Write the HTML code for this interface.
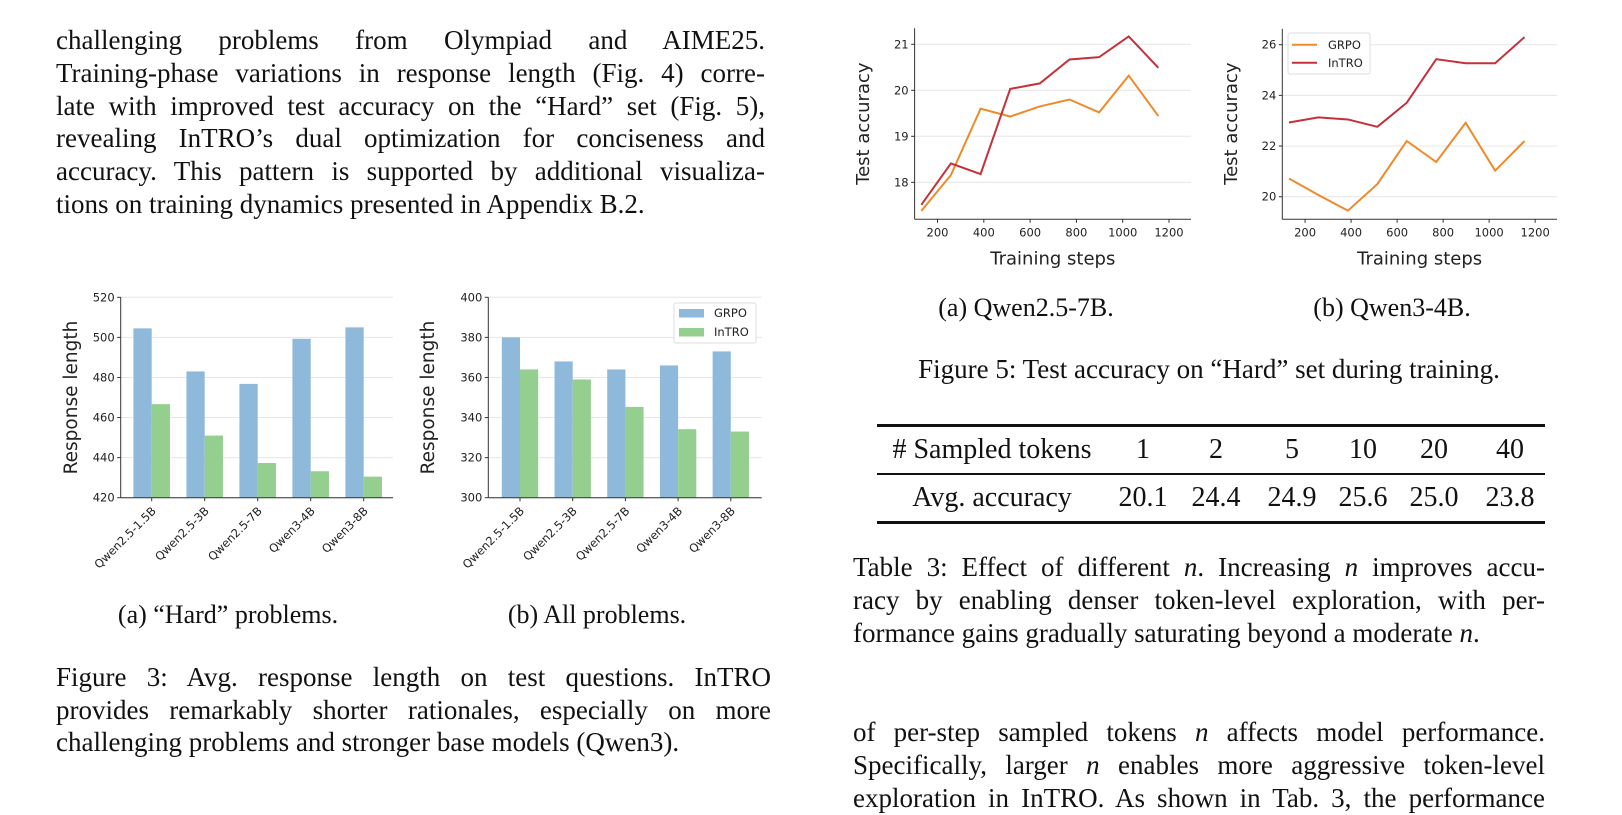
<!DOCTYPE html>
<html><head><meta charset="utf-8">
<style>
html,body{margin:0;padding:0;background:#fff;}
body{width:1622px;height:791px;position:relative;overflow:hidden;font-family:"Liberation Serif",serif;color:#111;}
.ln{position:absolute;font-size:27px;line-height:33px;height:33px;white-space:nowrap;}
.j{text-align:justify;text-align-last:justify;white-space:normal;overflow:hidden;}
.c{position:absolute;font-size:26px;line-height:30px;white-space:nowrap;transform:translateX(-50%);}
svg text{font-family:"DejaVu Sans",sans-serif;fill:#222;}
.tbl{position:absolute;left:877px;top:424px;width:668px;}
.rule{position:absolute;left:0;width:668px;background:#111;}
.cell{position:absolute;font-size:28px;line-height:32px;white-space:nowrap;transform:translateX(-50%);}
</style></head>
<body>
<div>
<div class="ln j" style="left:56px;top:24px;width:709px;">challenging problems from Olympiad and AIME25.</div>
<div class="ln j" style="left:56px;top:57px;width:709px;">Training-phase variations in response length (Fig. 4) corre-</div>
<div class="ln j" style="left:56px;top:90px;width:709px;">late with improved test accuracy on the “Hard” set (Fig. 5),</div>
<div class="ln j" style="left:56px;top:122px;width:709px;">revealing InTRO’s dual optimization for conciseness and</div>
<div class="ln j" style="left:56px;top:155px;width:709px;">accuracy. This pattern is supported by additional visualiza-</div>
<div class="ln" style="left:56px;top:188px;">tions on training dynamics presented in Appendix B.2.</div>
</div>

<div class="c" style="left:228px;top:600px;">(a) “Hard” problems.</div>
<div class="c" style="left:597px;top:600px;">(b) All problems.</div>

<div>
<div class="ln j" style="left:56px;top:661px;width:715px;">Figure 3: Avg. response length on test questions. InTRO</div>
<div class="ln j" style="left:56px;top:694px;width:715px;">provides remarkably shorter rationales, especially on more</div>
<div class="ln" style="left:56px;top:726px;">challenging problems and stronger base models (Qwen3).</div>
</div>

<div class="c" style="left:1026px;top:293px;">(a) Qwen2.5-7B.</div>
<div class="c" style="left:1392px;top:293px;">(b) Qwen3-4B.</div>
<div class="c" style="left:1209px;top:354px;font-size:27px;">Figure 5: Test accuracy on “Hard” set during training.</div>

<div class="tbl">
<div class="rule" style="top:0;height:2.5px;"></div>
<div class="rule" style="top:49px;height:1.5px;"></div>
<div class="rule" style="top:97px;height:2.5px;"></div>
<div class="cell" style="left:115px;top:10px;">#&nbsp;Sampled tokens</div>
<div class="cell" style="left:266px;top:10px;">1</div>
<div class="cell" style="left:339px;top:10px;">2</div>
<div class="cell" style="left:415px;top:10px;">5</div>
<div class="cell" style="left:486px;top:10px;">10</div>
<div class="cell" style="left:557px;top:10px;">20</div>
<div class="cell" style="left:633px;top:10px;">40</div>
<div class="cell" style="left:115px;top:58px;">Avg. accuracy</div>
<div class="cell" style="left:266px;top:58px;">20.1</div>
<div class="cell" style="left:339px;top:58px;">24.4</div>
<div class="cell" style="left:415px;top:58px;">24.9</div>
<div class="cell" style="left:486px;top:58px;">25.6</div>
<div class="cell" style="left:557px;top:58px;">25.0</div>
<div class="cell" style="left:633px;top:58px;">23.8</div>
</div>

<div>
<div class="ln j" style="left:853px;top:551px;width:692px;">Table 3: Effect of different <i>n</i>. Increasing <i>n</i> improves accu-</div>
<div class="ln j" style="left:853px;top:584px;width:692px;">racy by enabling denser token-level exploration, with per-</div>
<div class="ln" style="left:853px;top:617px;">formance gains gradually saturating beyond a moderate <i>n</i>.</div>
</div>

<div>
<div class="ln j" style="left:853px;top:716px;width:692px;">of per-step sampled tokens <i>n</i> affects model performance.</div>
<div class="ln j" style="left:853px;top:749px;width:692px;">Specifically, larger <i>n</i> enables more aggressive token-level</div>
<div class="ln j" style="left:853px;top:782px;width:692px;">exploration in InTRO. As shown in Tab. 3, the performance</div>
</div>

<svg id="charts" width="1622" height="791" style="position:absolute;left:0;top:0;" xmlns="http://www.w3.org/2000/svg"></svg>

<script>
const barCategories=["Qwen2.5-1.5B","Qwen2.5-3B","Qwen2.5-7B","Qwen3-4B","Qwen3-8B"];
const hardGRPO=[504.5,483,476.8,499.3,505];
const hardInTRO=[466.7,451,437.3,433.2,430.5];
const allGRPO=[380,368,364,366,373];
const allInTRO=[364,359,345.3,334.2,333];
const hardTicks=[420,440,460,480,500,520];
const allTicks=[300,320,340,360,380,400];

const steps=[130,258,386,514,642,770,898,1026,1154];
const q7GRPO=[17.38,18.16,19.6,19.43,19.65,19.8,19.52,20.32,19.44];
const q7InTRO=[17.51,18.41,18.18,20.03,20.15,20.67,20.72,21.17,20.49];
const q4GRPO=[20.72,20.07,19.45,20.5,22.2,21.37,22.92,21.03,22.2];
const q4InTRO=[22.93,23.13,23.05,22.76,23.71,25.43,25.27,25.27,26.3];
const stepTicks=[200,400,600,800,1000,1200];
const q7Ticks=[18,19,20,21];
const q4Ticks=[20,22,24,26];

const NS="http://www.w3.org/2000/svg";
const svg=document.getElementById('charts');
function mk(tag,attrs,parent){const e=document.createElementNS(NS,tag);for(const k in attrs)e.setAttribute(k,attrs[k]);(parent||svg).appendChild(e);return e;}

function barChart(name,left,right,yBot,yTop,vmin,vmax,ticks,g1,g2,x0,dx,legend,ylabelX){
  const g=mk('g',{});
  
  
  const ys=v=>yBot-(v-vmin)/(vmax-vmin)*(yBot-yTop);
  const bw=dx*0.345;
  ticks.forEach(t=>{
    const gl=mk('line',{x1:left,x2:right,y1:ys(t),y2:ys(t),stroke:'#e6e6e6','stroke-width':1},g);
    
    
    mk('line',{x1:left-3.5,x2:left,y1:ys(t),y2:ys(t),stroke:'#333','stroke-width':1},g);
    const tx=mk('text',{x:left-6,y:ys(t)+4,'text-anchor':'end','font-size':11.5},g);
    tx.textContent=t;
    
    
  });
  barCategories.forEach((c,i)=>{
    const cx=x0+dx*i;
    const b1=mk('rect',{x:cx-bw,y:ys(g1[i]),width:bw,height:yBot-ys(g1[i]),fill:'#8fb9da'},g);
    
    
    const b2=mk('rect',{x:cx,y:ys(g2[i]),width:bw,height:yBot-ys(g2[i]),fill:'#95cf90'},g);
    
    
    mk('line',{x1:cx,x2:cx,y1:yBot,y2:yBot+3.5,stroke:'#333','stroke-width':1},g);
    const tl=mk('text',{x:cx+5,y:yBot+14,'text-anchor':'end','font-size':11.5,transform:`rotate(-45 ${cx+5} ${yBot+14})`},g);
    tl.textContent=c;
    
    
  });
  mk('line',{x1:left,x2:left,y1:yTop,y2:yBot,stroke:'#333','stroke-width':1},g);
  mk('line',{x1:left,x2:right,y1:yBot,y2:yBot,stroke:'#333','stroke-width':1},g);
  const yl=mk('text',{x:ylabelX,y:(yTop+yBot)/2,'text-anchor':'middle','font-size':18.5,transform:`rotate(-90 ${ylabelX} ${(yTop+yBot)/2})`},g);
  yl.textContent='Response length';
  
  
  if(legend){
    const lg=mk('g',{},g);
    
    
    mk('rect',{x:674,y:303,width:82,height:40,fill:'#fff',stroke:'#ddd','stroke-width':1,rx:2},lg);
    mk('rect',{x:679,y:309,width:25,height:8.5,fill:'#8fb9da'},lg);
    mk('rect',{x:679,y:328,width:25,height:8.5,fill:'#95cf90'},lg);
    const t1=mk('text',{x:714,y:317,'font-size':11.5},lg);t1.textContent='GRPO';
    const t2=mk('text',{x:714,y:336,'font-size':11.5},lg);t2.textContent='InTRO';
  }
}

function lineChart(name,left,right,yBot,yTop,vmin,vmax,ticks,gA,gB,legend,ylabelX){
  const g=mk('g',{});
  
  
  const smin=101,smax=1295;
  const xs=s=>left+(s-smin)/(smax-smin)*(right-left);
  const ys=v=>yBot-(v-vmin)/(vmax-vmin)*(yBot-yTop);
  ticks.forEach(t=>{
    const gl=mk('line',{x1:left,x2:right,y1:ys(t),y2:ys(t),stroke:'#e6e6e6','stroke-width':1},g);
    
    
    mk('line',{x1:left-3.5,x2:left,y1:ys(t),y2:ys(t),stroke:'#333','stroke-width':1},g);
    const tx=mk('text',{x:left-6,y:ys(t)+4,'text-anchor':'end','font-size':11.5},g);
    tx.textContent=t;
    
    
  });
  stepTicks.forEach(t=>{
    mk('line',{x1:xs(t),x2:xs(t),y1:yBot,y2:yBot+3.5,stroke:'#333','stroke-width':1},g);
    const tx=mk('text',{x:xs(t),y:yBot+17,'text-anchor':'middle','font-size':11.5},g);
    tx.textContent=t;
    
    
  });
  const pa=mk('polyline',{points:steps.map((s,i)=>xs(s)+','+ys(gA[i])).join(' '),fill:'none',stroke:'#ef8a2b','stroke-width':2},g);
  
  
  const pb=mk('polyline',{points:steps.map((s,i)=>xs(s)+','+ys(gB[i])).join(' '),fill:'none',stroke:'#c4313a','stroke-width':2},g);
  
  
  mk('line',{x1:left,x2:left,y1:yTop-16,y2:yBot,stroke:'#333','stroke-width':1},g);
  mk('line',{x1:left,x2:right,y1:yBot,y2:yBot,stroke:'#333','stroke-width':1},g);
  const yl=mk('text',{x:ylabelX,y:(28+yBot)/2,'text-anchor':'middle','font-size':18,transform:`rotate(-90 ${ylabelX} ${(28+yBot)/2})`},g);
  yl.textContent='Test accuracy';
  
  
  const xl=mk('text',{x:(left+right)/2,y:yBot+45,'text-anchor':'middle','font-size':18},g);
  xl.textContent='Training steps';
  
  
  if(legend){
    const lg=mk('g',{},g);
    
    
    mk('rect',{x:1288,y:33,width:82,height:41,fill:'#fff',stroke:'#ddd','stroke-width':1,rx:2},lg);
    mk('line',{x1:1292,x2:1317,y1:44.7,y2:44.7,stroke:'#ef8a2b','stroke-width':2},lg);
    mk('line',{x1:1292,x2:1317,y1:62.7,y2:62.7,stroke:'#c4313a','stroke-width':2},lg);
    const t1=mk('text',{x:1328,y:49,'font-size':11.5},lg);t1.textContent='GRPO';
    const t2=mk('text',{x:1328,y:67,'font-size':11.5},lg);t2.textContent='InTRO';
  }
}

barChart('bar-chart-hard',120.7,393,497.7,297.3,420,520,hardTicks,hardGRPO,hardInTRO,151.7,53,false,77);
barChart('bar-chart-all',488.3,761.7,497.7,297.3,300,400,allTicks,allGRPO,allInTRO,520,52.7,true,434);
lineChart('line-chart-qwen25-7b',914.6,1191,219.3,44.3,17.196+0,21,q7Ticks.concat([]),q7GRPO,q7InTRO,false,869);
lineChart('line-chart-qwen3-4b',1282.3,1557,219.3,44.7,19.11,26,q4Ticks,q4GRPO,q4InTRO,true,1237);
</script>
</body></html>
